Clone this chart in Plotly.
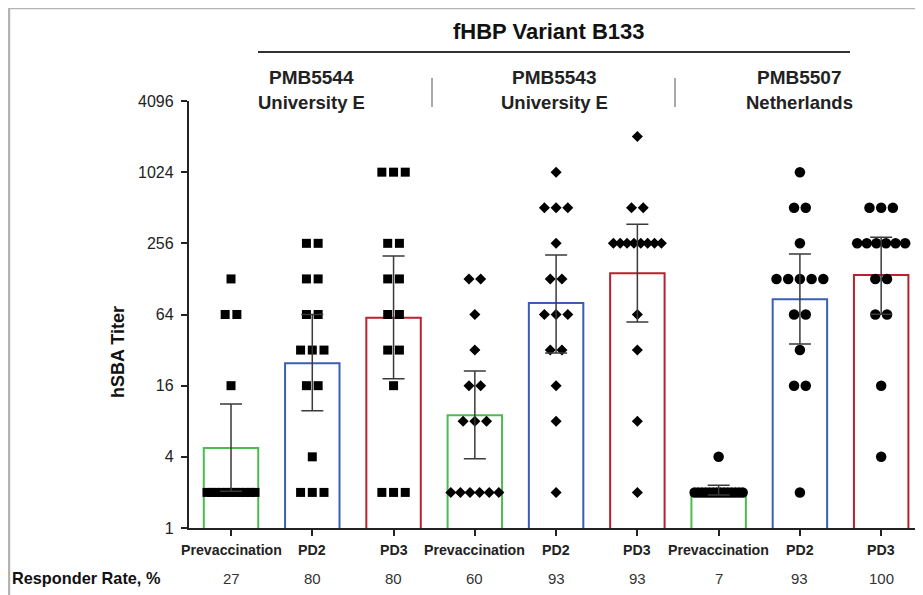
import plotly.graph_objects as go
import numpy as np

# ---------------- data ----------------
categories = ["Prevaccination", "PD2", "PD3"] * 3
responder_rate = ["27", "80", "80", "60", "93", "93", "7", "93", "100"]
strain_names = ["PMB5544", "PMB5543", "PMB5507"]
strain_origin = ["University E", "University E", "Netherlands"]
y_tick_vals = [1, 4, 16, 64, 256, 1024, 4096]
y_tick_text = ["1", "4", "16", "64", "256", "1024", "4096"]

# individual hSBA titers per group
titers_5544_pre = [128, 64, 64, 16] + [2] * 11
titers_5544_pd2 = [256, 256, 128, 128, 64, 64, 32, 32, 32, 16, 16, 4, 2, 2, 2]
titers_5544_pd3 = [1024, 1024, 1024, 256, 256, 128, 128, 64, 64, 32, 32, 16, 2, 2, 2]
titers_5543_pre = [128, 128, 64, 32, 16, 16, 8, 8, 8] + [2] * 6
titers_5543_pd2 = [1024, 512, 512, 512, 256, 128, 128, 64, 64, 64, 32, 32, 16, 8, 2]
titers_5543_pd3 = [2048, 512, 512] + [256] * 8 + [64, 32, 8, 2]
titers_5507_pre = [4] + [2] * 14
titers_5507_pd2 = [1024, 512, 512, 256, 128, 128, 128, 128, 128, 64, 64, 32, 16, 16, 2]
titers_5507_pd3 = [512, 512, 512] + [256] * 6 + [128, 128, 64, 64, 16, 4]

# geometric mean titers and 95% CI
gmt = [4.75, 24.8, 60, 9.0, 80, 143, 2.1, 86, 138]
ci_low = [2.05, 9.8, 18.3, 3.85, 30.3, 55.3, 1.9, 36, 64.4]
ci_high = [11.2, 64, 200, 21.3, 204, 372, 2.3, 208, 288]

groups = [titers_5544_pre, titers_5544_pd2, titers_5544_pd3,
          titers_5543_pre, titers_5543_pd2, titers_5543_pd3,
          titers_5507_pre, titers_5507_pd2, titers_5507_pd3]

# ---------------- style ----------------
FONT = "Arial, Liberation Sans, sans-serif"
bar_colors = ["#4dbb4f", "#3b5fb5", "#b8222e"] * 3
symbols = ["square"] * 3 + ["diamond"] * 3 + ["circle"] * 3
msizes = [9] * 3 + [8.5] * 3 + [10.5] * 3
px_per_unit = 81.25
max_spread_px = 48
step_px = 11.7

# page-pixel helpers (plot area spans page y 101..528, x 189..921)
def ypaper(ypage):
    return (528 - ypage) / 427

def xpaper(xpage):
    return (xpage - 189) / 732

fig = go.Figure()
xs = list(range(len(categories)))

fig.add_trace(go.Bar(
    x=xs, y=gmt, width=0.67,
    marker=dict(color="rgba(255,255,255,0)", line=dict(color=bar_colors, width=2)),
    showlegend=False, hoverinfo="skip"))

for i, vals in enumerate(groups):
    px, py = [], []
    for lvl in sorted(set(vals)):
        n = vals.count(lvl)
        step = step_px if n <= 1 else min(step_px, max_spread_px / (n - 1))
        for k in range(n):
            px.append(i + (k - (n - 1) / 2) * step / px_per_unit)
            py.append(lvl)
    fig.add_trace(go.Scatter(
        x=px, y=py, mode="markers",
        marker=dict(symbol=symbols[i], size=msizes[i], color="black", line=dict(width=0)),
        showlegend=False))

fig.add_trace(go.Scatter(
    x=xs, y=gmt, mode="markers", marker=dict(size=0.1, color="rgba(0,0,0,0)"),
    error_y=dict(type="data", symmetric=False,
                 array=[h - g for h, g in zip(ci_high, gmt)],
                 arrayminus=[g - l for g, l in zip(gmt, ci_low)],
                 color="#3a3a3a", thickness=1.5, width=11),
    showlegend=False))

annotations = []
C = dict(xref="paper", yref="paper", showarrow=False, xanchor="center", yanchor="middle")
annotations.append(dict(text="<b>fHBP Variant B133</b>", x=xpaper(549), y=ypaper(31),
                        font=dict(size=22, color="#111", family=FONT), **C))
header_x = [311, 554, 799]
for j in range(3):
    annotations.append(dict(text=f"<b>{strain_names[j]}</b>", x=xpaper(header_x[j]), y=ypaper(78),
                            font=dict(size=19, color="#222", family=FONT), **C))
    annotations.append(dict(text=f"<b>{strain_origin[j]}</b>", x=xpaper(header_x[j]), y=ypaper(102),
                            font=dict(size=18.5, color="#222", family=FONT), **C))
for i in xs:
    annotations.append(dict(text=f"<b>{categories[i]}</b>", x=i, y=ypaper(550), xref="x", yref="paper",
                            xanchor="center", yanchor="middle", showarrow=False,
                            font=dict(size=14.2, color="#222", family=FONT)))
    annotations.append(dict(text=responder_rate[i], x=i, y=ypaper(578), xref="x", yref="paper",
                            xanchor="center", yanchor="middle", showarrow=False,
                            font=dict(size=15, color="#333", family=FONT)))
annotations.append(dict(text="<b>Responder Rate, %</b>", x=xpaper(10), y=ypaper(578),
                        xref="paper", yref="paper", xanchor="left", yanchor="middle", showarrow=False,
                        font=dict(size=16.3, color="#111", family=FONT)))
annotations.append(dict(text="<b>hSBA Titer</b>", x=xpaper(118), y=ypaper(352), textangle=-90,
                        font=dict(size=18, color="#111", family=FONT), **C))

shapes = [
    dict(type="line", xref="paper", yref="paper", x0=xpaper(258), x1=xpaper(850), y0=ypaper(52), y1=ypaper(52),
         line=dict(color="#333", width=2)),
    dict(type="line", xref="paper", yref="paper", x0=xpaper(432), x1=xpaper(432), y0=ypaper(78), y1=ypaper(107),
         line=dict(color="#555", width=1)),
    dict(type="line", xref="paper", yref="paper", x0=xpaper(675), x1=xpaper(675), y0=ypaper(78), y1=ypaper(107),
         line=dict(color="#555", width=1)),
    # outer gray frame (top and left)
    dict(type="line", xref="paper", yref="paper", x0=xpaper(9), x1=1.02, y0=ypaper(8), y1=ypaper(8),
         line=dict(color="#b3b3b3", width=2.5)),
    dict(type="line", xref="paper", yref="paper", x0=xpaper(9), x1=xpaper(9), y0=ypaper(8),
         y1=ypaper(600), line=dict(color="#b3b3b3", width=2.5)),
]

fig.update_layout(
    width=923, height=595,
    margin=dict(l=181, r=10, t=93, b=75),
    paper_bgcolor="white", plot_bgcolor="white",
    font=dict(family=FONT, color="#222"),
    showlegend=False,
    annotations=annotations, shapes=shapes,
    xaxis=dict(range=[-0.517, 8.49], tickvals=xs, ticktext=[""] * 9, showgrid=False, zeroline=False,
               showline=True, linecolor="#222", linewidth=1.5, ticks="outside", ticklen=6,
               tickcolor="#222", tickwidth=1.5),
    yaxis=dict(type="log", range=[0, np.log10(4096)], tickvals=y_tick_vals,
               ticktext=[t + "\u00a0" for t in y_tick_text],
               showgrid=False, zeroline=False, showline=True, linecolor="#222", linewidth=1.5,
               ticks="outside", ticklen=6, tickcolor="#222", tickwidth=1.5,
               tickfont=dict(size=16, color="#222", family=FONT)),
)

fig.write_html("out.html")
